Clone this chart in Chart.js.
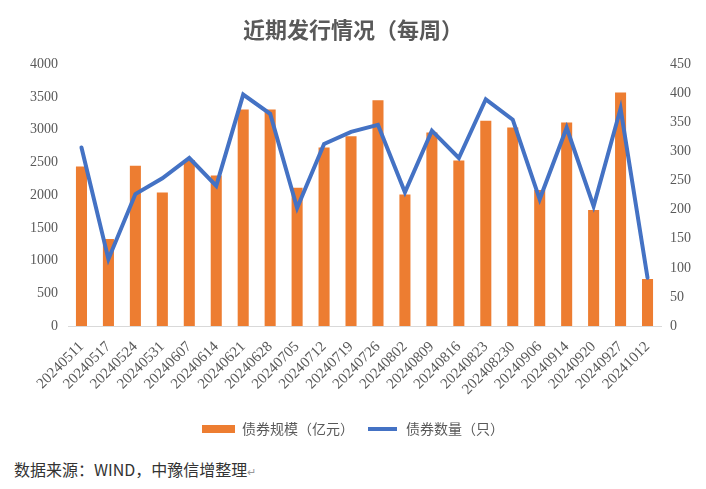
<!DOCTYPE html>
<html><head><meta charset="utf-8">
<script src="https://cdn.jsdelivr.net/npm/chart.js@4.4.1/dist/chart.umd.min.js"></script>
<style>
html,body{margin:0;padding:0;background:#fff;}
#wrap{position:relative;width:706px;height:489px;}
#box{position:absolute;left:0;top:0;width:706px;height:450px;}
#foot{position:absolute;left:14px;top:457px;font:16px "Noto Sans CJK SC";color:#333;white-space:nowrap;}
</style></head>
<body>
<div id="wrap">
<div id="box"><canvas id="c"></canvas></div>
<div id="foot">数据来源：WIND，中豫信增整理<span style="color:#999;font-size:11px">↵</span></div>
</div>
<script>
const categories = ['20240511','20240517','20240524','20240531','20240607','20240614','20240621','20240628','20240705','20240712','20240719','20240726','20240802','20240809','20240816','20240823','202408230','20240906','20240914','20240920','20240927','20241012'];
const bondScale = [2440,1330,2450,2040,2540,2300,3310,3310,2115,2730,2900,3450,2010,2960,2530,3140,3035,2080,3110,1775,3570,720];
const bondCount = [307,115,227,254,289,241,398,365,203,313,334,346,230,336,289,390,355,218,341,206,374,83];
const leftTicks = [0,500,1000,1500,2000,2500,3000,3500,4000];
const rightTicks = [0,50,100,150,200,250,300,350,400,450];
const seriesNames = ['债券规模（亿元）','债券数量（只）'];

const serifTick = {family:'Liberation Serif', size:14};
const serifX = {family:'Liberation Serif', size:15};
function draw(){
new Chart(document.getElementById('c'), {
  data: {
    labels: categories,
    datasets: [
      {type:'bar', label:seriesNames[0], data:bondScale, yAxisID:'y', backgroundColor:'#ED7D31', categoryPercentage:1, barPercentage:0.41, order:2},
      {type:'line', label:seriesNames[1], data:bondCount, yAxisID:'y1', borderColor:'#4472C4', backgroundColor:'#4472C4', borderWidth:4, pointRadius:0, tension:0, order:1, borderCapStyle:'round'}
    ]
  },
  options: {
    responsive:true, maintainAspectRatio:false, animation:false,
    layout:{padding:{left:0,right:0,top:0,bottom:4}},
    plugins:{
      tooltip:{enabled:false},
      title:{display:true, text:'近期发行情况（每周）', color:'#595959', font:{family:'Noto Sans CJK SC', size:22, weight:'bold'}, padding:{top:16,bottom:22}},
      legend:{position:'bottom', labels:{
        color:'#595959', font:{family:'Noto Sans CJK SC', size:14}, boxWidth:33, boxHeight:8, padding:12,
        sort:(a,b)=>a.datasetIndex-b.datasetIndex,
        generateLabels:(chart)=>chart.data.datasets.map((d,i)=>({
          text:d.label, datasetIndex:i, fillStyle: d.type==='bar'?'#ED7D31':'#4472C4',
          strokeStyle: d.type==='bar'?'#ED7D31':'#ffffff', lineWidth: d.type==='bar'?0:4, fontColor:'#595959', hidden:false
        }))
      }}
    },
    scales:{
      x:{grid:{display:false, drawTicks:false}, border:{display:true,color:'#d9d9d9',width:1},
         ticks:{color:'#595959', font:serifX, minRotation:45, maxRotation:45, autoSkip:false, padding:12},
         afterFit:(s)=>{s.height=84;}},
      y:{position:'left', min:0, max:4000, grid:{display:false,drawTicks:false}, border:{display:false},
         afterBuildTicks:(s)=>{s.ticks=leftTicks.map(v=>({value:v}));},
         ticks:{color:'#595959', font:serifTick, padding:10, callback:(v)=>String(v)}, afterFit:(s)=>{s.width=68;}},
      y1:{position:'right', min:0, max:450, grid:{display:false,drawTicks:false}, border:{display:false},
         afterBuildTicks:(s)=>{s.ticks=rightTicks.map(v=>({value:v}));},
         ticks:{color:'#595959', font:serifTick, padding:9, callback:(v)=>String(v)}, afterFit:(s)=>{s.width=45;}}
    }
  }
});
}
Promise.all([
  document.fonts.load('14px "Liberation Serif"'),
  document.fonts.load('bold 22px "Noto Sans CJK SC"'),
  document.fonts.load('14px "Noto Sans CJK SC"')
]).then(draw, draw);
</script>
</body></html>
